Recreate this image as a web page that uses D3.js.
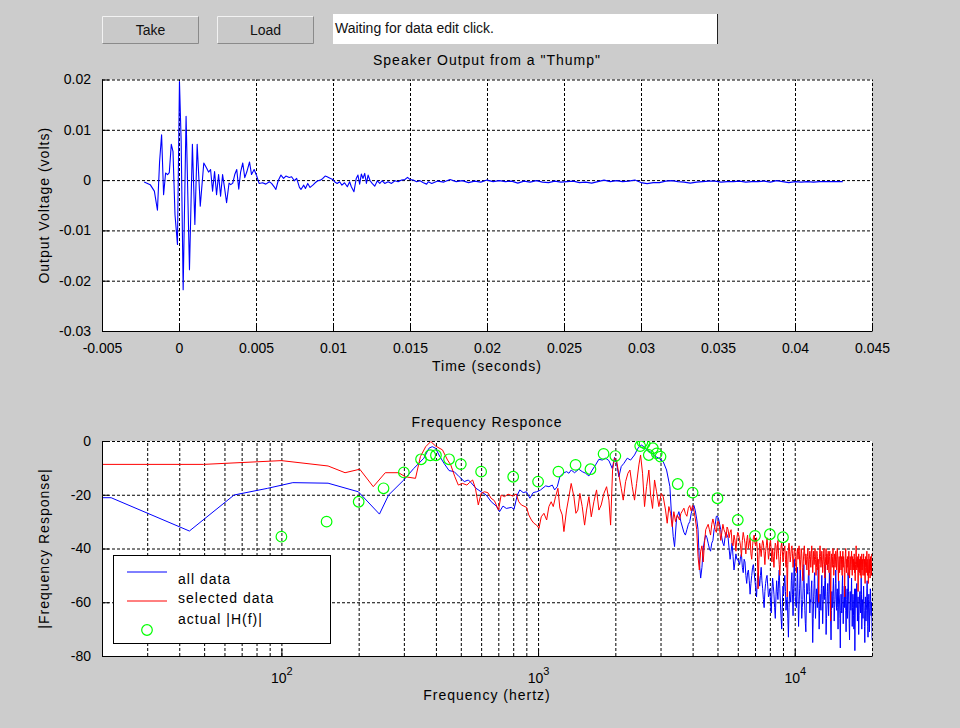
<!DOCTYPE html>
<html>
<head>
<meta charset="utf-8">
<script src="https://cdn.jsdelivr.net/npm/d3@7"></script>
<style>
  html, body { margin: 0; padding: 0; background: #cccccc; }
  svg { display: block; font-family: "Liberation Sans", Arial, Helvetica, sans-serif; }
</style>
</head>
<body>
<svg id="fig" width="960" height="728"></svg>
<script>
// ---------- Speaker "thump" recording (time in ms, output in mV) ----------
const thumpMs = [
  -2.26,-1.87,-1.60,-1.40,-1.26,-1.13,-1.00,-0.87,-0.74,-0.63,-0.50,-0.39,-0.26,-0.10,
  0.03,0.14,0.27,0.46,0.68,0.87,1.03,1.18,1.38,1.61,1.79,1.92,2.05,2.18,2.31,2.44,2.57,
  2.70,2.83,2.96,3.09,3.25,3.36,3.49,3.62,3.75,3.88,4.00,4.14,4.27,4.40,4.58,4.71,4.88,
  5.05,5.20,5.42,5.64,5.86,6.01,6.18,6.29,6.44,6.62,6.79,6.94,7.16,7.31,7.49,7.64,7.82,
  7.92,8.10,8.21,8.36,8.51,8.69,8.84,9.01,9.19,9.34,9.49,9.62,9.71,9.84,9.99,10.10,10.27,
  10.43,10.58,10.75,10.93,11.08,11.19,11.36,11.51,11.62,11.73,11.84,11.95,12.06,12.17,
  12.28,12.41,12.54,12.71,12.88,13.04,13.19,13.36,13.58,13.80,14.02,14.23,14.45,14.67,
  14.84,14.99,15.21,15.43,15.65,15.87,16.08,16.19,16.41,
  16.8,17.2,17.6,18.0,18.4,18.8,19.2,19.6,20.0,20.4,20.8,21.2,21.6,22.0,22.4,22.8,23.2,
  23.6,24.0,24.4,24.8,25.2,25.6,26.0,26.4,26.8,27.2,27.6,28.0,28.4,28.8,29.2,29.6,30.0,
  30.4,30.8,31.2,31.6,32.0,32.4,32.8,33.2,33.6,34.0,34.4,34.8,35.2,35.6,36.0,36.4,36.8,
  37.2,37.6,38.0,38.4,38.8,39.2,39.6,40.0,40.4,40.8,41.2,41.6,42.0,42.4,43.1
];
const thumpMv = [
  -0.36,-0.9,-2.2,-6.0,3.7,9.0,-2.9,1.4,1.1,1.5,7.1,5.7,-6.9,-12.8,
  19.6,7.7,-21.8,12.7,-17.8,7.1,-8.8,7.1,-5.2,3.4,2.4,1.6,2.1,-2.2,1.7,-2.9,1.1,
  -3.2,1.1,-1.6,-4.5,-0.6,-0.9,-0.6,1.1,2.1,-1.8,1.6,3.4,0.5,1.6,3.6,1.1,2.1,
  0.8,-0.66,-0.53,-0.8,-0.33,-0.66,-1.33,-1.86,-0.13,1.0,0.33,0.8,0.53,0.66,-0.13,0.33,-1.46,
  -1.86,-1.0,-1.66,-0.66,-1.46,-1.0,-0.53,-0.13,0,0.33,0.8,0.66,0.53,0.33,0.13,-0.33,-0.66,
  -0.33,-1.0,-0.53,-1.33,-0.33,-1.33,-2.3,0.33,1.0,-0.8,1.2,0.33,1.33,-0.66,
  1.0,-0.13,-0.66,-1.2,-0.13,-0.66,-0.13,-0.66,-0.33,-0.66,-0.13,-0.33,0,0.13,
  0.53,0.13,0,-0.33,-0.13,-0.53,-0.8,-0.33,-0.66,
  -0.2,-0.4,0.1,-0.3,-0.1,-0.5,-0.2,-0.4,0.0,-0.3,-0.1,-0.3,-0.2,-0.6,-0.2,-0.4,-0.1,
  -0.4,-0.5,-0.2,-0.4,-0.3,-0.2,-0.5,-0.4,-0.6,-0.3,0.0,-0.3,-0.1,-0.3,-0.2,0.0,-0.5,
  -0.7,-0.5,-0.5,-0.2,-0.1,-0.3,-0.4,-0.6,-0.4,-0.3,-0.2,-0.2,-0.4,-0.3,-0.3,-0.2,-0.4,
  -0.3,-0.3,-0.2,-0.4,-0.1,-0.3,-0.5,-0.3,-0.4,-0.3,-0.4,-0.3,-0.3,-0.3,-0.3
];
const timeTicks = [-0.005,0,0.005,0.01,0.015,0.02,0.025,0.03,0.035,0.04,0.045];
const voltTicks = [-0.03,-0.02,-0.01,0,0.01,0.02];

// ---------- Frequency response: measured points below 3.6 kHz ----------
const allDataHz = [19.6,21.7,43.8,65.4,88.4,110.8,152,199.5,241,261.6,299.8,328,359,375.6,387,
  399,411,430,450,471,493,516,535,548,573,600,628,657,687,708,730,752,787,806,830,849,875,
  901,929,957,986,1010,1023,1070,1102,1136,1160,1188,1216,1253,1291,1319,1346,1387,1442,
  1486,1531,1578,1626,1675,1726,1778,1832,1888,1945,1986,2022,2065,2109,2160,2226,2293,
  2376,2449,2523,2584,2663,2744,2844,2956,3073,3167,3263,3302,3362,3402,3464,3537];
const allDataDb = [-21.1,-21.1,-33.5,-20.1,-17.6,-15.5,-15.7,-18.9,-27.2,-20.1,-14.5,-10.2,
  -6.4,-2.7,-2.1,-2.7,-5.2,-8.3,-11.0,-11.4,-13.3,-15.1,-14.5,-15.5,-17.6,-18.9,-20.1,-22.6,
  -24.2,-26.3,-24.2,-25.1,-24.7,-25.4,-20.1,-18.2,-19.2,-18.9,-21.3,-19.2,-18.9,-18.5,-18.2,
  -16.7,-17.0,-16.4,-18.2,-17.0,-13.3,-12.0,-11.4,-12.0,-10.8,-11.8,-10.5,-11.4,-12.0,-13.0,
  -10.8,-8.9,-6.8,-7.1,-6.4,-7.3,-10.2,-6.1,-8.3,-13.3,-9.5,-8.3,-6.4,-7.1,-5.2,-2.7,-1.5,
  -2.1,-3.6,-4.0,-5.6,-6.4,-7.7,-10.8,-17.0,-25.7,-35.6,-39.3,-28.8,-26.3];

const selectedHz = [19.6,49.8,100,152,177,202,228,254,286,304,333,348,365,382,399,424,444,
  457,474,489,508,528,540,556,570,585,600,618,637,656,676,701,718,740,764,798,822,841,861,
  902,920,942,963,987,1008,1029,1054,1080,1102,1125,1146,1170,1195,1216,1242,1261,1291,1319,
  1346,1379,1404,1429,1455,1486,1518,1545,1578,1612,1650,1690,1726,1762,1805,1849,1888,1917,
  1951,1986,2022,2065,2109,2147,2193,2239,2280,2328,2376,2420,2471,2508,2553,2599,2646,2702,
  2744,2793,2844,2895,2956,3019,3073,3138,3185,3233,3282,3331,3381,3432,3485,3558];
const selectedDb = [-8.7,-8.7,-7.3,-9.3,-11.8,-10.5,-17.0,-11.8,-11.8,-13.3,-13.9,-5.8,-2.1,
  -0.2,-1.9,-3.3,-7.1,-8.9,-13.3,-16.4,-15.8,-16.4,-15.5,-14.5,-17.6,-23.8,-19.5,-18.9,-19.2,
  -21.3,-22.2,-25.7,-20.1,-20.7,-19.8,-20.5,-19.7,-22.6,-23.8,-24.7,-27.5,-29.4,-30.6,-31.3,
  -32.5,-28.2,-26.9,-29.4,-24.4,-22.6,-24.4,-20.7,-17.6,-25.1,-27.5,-33.7,-25.7,-20.7,-15.8,
  -20.7,-26.9,-25.7,-19.5,-24.4,-31.3,-25.7,-20.7,-28.2,-22.6,-18.2,-25.7,-23.8,-19.5,-17.0,
  -22.0,-31.3,-10.8,-6.4,-7.1,-12.6,-17.6,-22.0,-15.1,-12.0,-10.8,-17.0,-22.0,-15.8,-8.9,
  -5.2,-12.0,-24.4,-17.0,-10.8,-20.1,-25.1,-14.5,-18.9,-24.4,-19.5,-20.7,-25.7,-30.6,-24.4,
  -26.9,-31.9,-26.3,-30.0,-27.5,-29.4];

// ---------- FFT bins from 3.6 kHz up (evenly spaced, 50 Hz apart) ----------
const hfFirstBinHz = 3600, hfLastBinHz = 20400, hfBinStepHz = 50;
const allDataHfDb = [
  -30,-32,-34,-35,-33,-31,-30,-27,-25,
  -24,-26,-29,-33,-45,-51,-47,-40,-37,-35,
  -36,-38,-40,-41,-38,-37,-33,-31,-28,-28,
  -29,-31,-33,-36,-38,-39,-36,-34,-35,-36,
  -40,-44,-41,-38,-43,-48,-45,-42,-44,-44,
  -45,-46,-43,-42,-47,-49,-44,-45,-50,-53,
  -49,-48,-52,-57,-53,-50,-47,-46,-49,-52,
  -55,-58,-52,-49,-51,-54,-50,-47,-52,-55,
  -59,-62,-56,-53,-51,-50,-54,-58,-57,-55,
  -60,-64,-56,-51,-54,-57,-62,-66,-58,-52,
  -56,-59,-52,-48,-55,-61,-66,-70,-61,-54,
  -57,-53,-50,-56,-63,-59,-58,-66,-73,-62,
  -56,-58,-60,-52,-49,-57,-65,-55,-44,-51,
  -58,-61,-62,-54,-47,-58,-69,-61,-55,-48,
  -51,-59,-66,-62,-59,-52,-46,-55,-63,-68,
  -71,-60,-53,-56,-57,-50,-48,-56,-64,-59,
  -60,-55,-52,-64,-75,-66,-58,-53,-49,-57,
  -66,-60,-55,-58,-62,-54,-47,-59,-70,-63,
  -57,-61,-63,-55,-50,-59,-68,-61,-54,-57,
  -59,-52,-46,-58,-72,-66,-61,-56,-53,-60,
  -65,-57,-49,-54,-58,-66,-74,-63,-56,-60,
  -62,-55,-51,-58,-67,-62,-59,-53,-48,-56,
  -63,-58,-55,-62,-70,-61,-52,-57,-60,-66,
  -77,-63,-57,-60,-64,-55,-50,-59,-68,-62,
  -58,-54,-62,-57,-54,-63,-71,-64,-59,-55,
  -66,-58,-49,-56,-61,-68,-74,-63,-56,-60,
  -63,-57,-51,-60,-69,-62,-57,-59,-65,-70,
  -60,-55,-78,-64,-55,-58,-62,-55,-53,-60,
  -67,-61,-58,-64,-72,-65,-61,-57,-56,-60,
  -64,-58,-51,-57,-70,-64,-59,-62,-66,-58,
  -54,-60,-63,-69,-75,-66,-58,-62,-67,-63,
  -61,-55,-52,-58,-69,-73,-64,-59,-57,-62,
  -71,-65,-60,-55,-56,-63,-65,-60,-62,-70,
  -74,-66,-58,-62,-66,-60,-61,-64];
const selectedHfDb = [
  -27,-26,-25,-27,-28,-25,-24,-26,-24,
  -26,-29,-33,-43,-48,-41,-39,-45,-38,-33,
  -32,-31,-33,-35,-31,-29,-31,-33,-34,-30,
  -30,-33,-37,-34,-31,-33,-34,-36,-32,-33,
  -36,-34,-33,-38,-39,-35,-37,-41,-36,-34,
  -35,-37,-39,-43,-37,-34,-36,-38,-42,-37,
  -35,-40,-38,-36,-42,-44,-39,-36,-35,-38,
  -39,-36,-41,-55,-44,-38,-40,-43,-39,-37,
  -38,-42,-46,-41,-39,-36,-40,-44,-42,-38,
  -37,-41,-45,-40,-43,-47,-41,-38,-39,-44,
  -40,-37,-42,-46,-50,-43,-39,-38,-41,-45,
  -42,-40,-39,-44,-47,-41,-58,-46,-40,-38,
  -41,-45,-43,-40,-39,-42,-47,-44,-41,-40,
  -43,-46,-49,-42,-40,-44,-41,-39,-45,-48,
  -44,-40,-42,-47,-52,-45,-41,-39,-43,-46,
  -42,-44,-48,-43,-40,-45,-50,-44,-41,-43,
  -47,-42,-39,-44,-49,-45,-41,-46,-43,-40,
  -44,-50,-47,-41,-43,-48,-44,-60,-46,-42,
  -39,-43,-47,-45,-41,-44,-49,-46,-42,-40,
  -45,-51,-47,-43,-40,-46,-42,-48,-44,-41,
  -46,-49,-43,-41,-45,-67,-48,-42,-44,-47,
  -43,-40,-46,-50,-44,-42,-47,-45,-41,-43,
  -48,-44,-40,-42,-47,-52,-45,-43,-49,-46,
  -41,-44,-48,-43,-46,-50,-44,-41,-47,-43,
  -45,-49,-58,-46,-42,-40,-45,-49,-44,-47,
  -43,-46,-50,-44,-41,-45,-51,-47,-43,-45,
  -48,-44,-41,-46,-50,-43,-45,-48,-44,-47,
  -42,-49,-45,-52,-46,-43,-39,-45,-48,-44,
  -47,-43,-56,-49,-42,-45,-49,-44,-46,-50,
  -43,-47,-51,-45,-42,-48,-44,-47,-50,-45,
  -42,-46,-50,-44,-48,-53,-47,-43,-46,-49,
  -45,-41,-47,-50,-44,-46,-53,-48,-42,-45,
  -49,-44,-51,-47,-43,-48,-46,-50,-44,-42,
  -47,-45,-49,-44,-48,-46,-43,-47];

// ---------- Actual |H(f)| reference points ----------
const actualHz = [100,150,200,250,300,350,380,400,450,500,600,800,1000,1200,1400,1600,1800,
  2000,2500,2550,2600,2700,2800,2900,3000,3500,4000,5000,6000,7000,8000,9000];
const actualDb = [-35.6,-30,-22.6,-17.6,-11.7,-6.8,-5.3,-5.3,-6.8,-8.6,-11.4,-13.3,-15.1,
  -11.4,-8.9,-10.5,-4.8,-5.6,-1.9,-0.4,-0.9,-5.2,-2.7,-4.6,-5.8,-16,-19.2,-21.3,-29.4,-35.3,
  -34.7,-35.8];

const decadeTicks = [100, 1000, 10000];
const decadeExponents = ["2", "3", "4"];
const minorGridHz = [20,30,40,50,60,70,80,90,200,300,400,500,600,700,800,900,
  2000,3000,4000,5000,6000,7000,8000,9000,20000];
const dbTicks = [-80,-60,-40,-20,0];
const legendLabels = ["all data", "selected data", "actual |H(f)|"];

// ---------------------------------------------------------------------------
const svg = d3.select("#fig");
const BLUE = "#0000ff", RED = "#ff0000", GREEN = "#00ff00";

// Control strip: two push buttons and a status text box
function pushButton(x, y, w, h, label) {
  const g = svg.append("g");
  g.append("rect").attr("x", x).attr("y", y).attr("width", w).attr("height", h).attr("fill", "#c9c9c9");
  g.append("path").attr("d", `M${x+0.5},${y+h-0.5}V${y+0.5}H${x+w-0.5}`).attr("fill", "none").attr("stroke", "#f2f2f2");
  g.append("path").attr("d", `M${x+0.5},${y+h-0.5}H${x+w-0.5}V${y+0.5}`).attr("fill", "none").attr("stroke", "#8a8a8a");
  g.append("text").attr("x", x + w / 2).attr("y", y + h / 2 + 5).attr("text-anchor", "middle")
    .attr("font-size", 14).attr("fill", "#111").text(label);
}
pushButton(102, 16, 97, 28, "Take");
pushButton(217, 16, 97, 28, "Load");
svg.append("rect").attr("x", 333).attr("y", 14).attr("width", 385).attr("height", 30).attr("fill", "#ffffff");
svg.append("line").attr("x1", 717.5).attr("x2", 717.5).attr("y1", 14).attr("y2", 44).attr("stroke", "#222");
svg.append("text").attr("x", 335).attr("y", 33).attr("font-size", 14).attr("fill", "#111")
  .text("Waiting for data edit click.");

// Shared helpers for the two axes panels
function gridStyle(sel) {
  sel.select(".domain").remove();
  sel.selectAll(".tick line").attr("stroke", "#000").attr("stroke-width", 1).attr("stroke-dasharray", "3,2");
  sel.selectAll(".tick text").remove();
}
function axisStyle(sel) {
  sel.select(".domain").attr("stroke", "#000").attr("stroke-width", 1);
  sel.selectAll(".tick line").attr("stroke", "#000");
  sel.selectAll(".tick text").attr("fill", "#000").attr("font-size", 14)
    .attr("font-family", '"Liberation Sans", Arial, Helvetica, sans-serif');
}
function label(x, y, txt, rotate) {
  const t = svg.append("text").attr("x", x).attr("y", y).attr("text-anchor", "middle")
    .attr("font-size", 14).attr("letter-spacing", 1).attr("fill", "#000").text(txt);
  if (rotate) t.attr("transform", `rotate(-90,${x},${y})`);
  return t;
}

// ===================== Panel 1: time signal =====================
const p1 = { left: 102, right: 872, top: 79.5, bottom: 331 };
const xT = d3.scaleLinear().domain([-0.005, 0.045]).range([p1.left, p1.right]);
const yT = d3.scaleLinear().domain([-0.03, 0.02]).range([p1.bottom, p1.top]);

svg.append("rect").attr("x", p1.left).attr("y", p1.top).attr("width", p1.right - p1.left)
  .attr("height", p1.bottom - p1.top).attr("fill", "#fff");
svg.append("g").attr("transform", `translate(0,${p1.bottom})`)
  .call(d3.axisBottom(xT).tickValues(timeTicks).tickSize(-(p1.bottom - p1.top))).call(gridStyle);
svg.append("g").attr("transform", `translate(${p1.left},0)`)
  .call(d3.axisLeft(yT).tickValues(voltTicks).tickSize(-(p1.right - p1.left))).call(gridStyle);

const thump = thumpMs.map((t, i) => ({ t: t / 1000, v: thumpMv[i] / 1000 }));
svg.append("path").datum(thump)
  .attr("d", d3.line().x(d => xT(d.t)).y(d => yT(d.v)))
  .attr("fill", "none").attr("stroke", BLUE).attr("stroke-width", 1.1).attr("stroke-linejoin", "round");

const fmtPlain = d => String(d);
svg.append("g").attr("transform", `translate(0,${p1.bottom})`)
  .call(d3.axisBottom(xT).tickValues(timeTicks).tickSizeInner(-7).tickSizeOuter(0).tickPadding(12).tickFormat(fmtPlain))
  .call(axisStyle);
svg.append("g").attr("transform", `translate(${p1.left},0)`)
  .call(d3.axisLeft(yT).tickValues(voltTicks).tickSizeInner(-7).tickSizeOuter(0).tickPadding(11).tickFormat(fmtPlain))
  .call(axisStyle);

label((p1.left + p1.right) / 2, 65, 'Speaker Output from a "Thump"');
label((p1.left + p1.right) / 2, 371, "Time (seconds)");
label(49, (p1.top + p1.bottom) / 2, "Output Voltage (volts)", true);

// ===================== Panel 2: frequency response =====================
const p2 = { left: 102, right: 872, top: 441, bottom: 656 };
const xF = d3.scaleLog().domain([20, 20000]).range([p2.left, p2.right]);
const yF = d3.scaleLinear().domain([-80, 0]).range([p2.bottom, p2.top]);

svg.append("rect").attr("x", p2.left).attr("y", p2.top).attr("width", p2.right - p2.left)
  .attr("height", p2.bottom - p2.top).attr("fill", "#fff");
svg.append("g").attr("transform", `translate(0,${p2.bottom})`)
  .call(d3.axisBottom(xF).tickValues(decadeTicks.concat(minorGridHz)).tickSize(-(p2.bottom - p2.top))).call(gridStyle);
svg.append("g").attr("transform", `translate(${p2.left},0)`)
  .call(d3.axisLeft(yF).tickValues(dbTicks).tickSize(-(p2.right - p2.left))).call(gridStyle);

svg.append("clipPath").attr("id", "clip2").append("rect")
  .attr("x", p2.left).attr("y", p2.top).attr("width", p2.right - p2.left).attr("height", p2.bottom - p2.top);
const plot2 = svg.append("g").attr("clip-path", "url(#clip2)");

const hfBinHz = d3.range(hfFirstBinHz, hfLastBinHz + 1, hfBinStepHz);
const allSeries = allDataHz.map((f, i) => ({ f, db: allDataDb[i] }))
  .concat(hfBinHz.map((f, i) => ({ f, db: allDataHfDb[i] })));
const selSeries = selectedHz.map((f, i) => ({ f, db: selectedDb[i] }))
  .concat(hfBinHz.map((f, i) => ({ f, db: selectedHfDb[i] })));
const lineF = d3.line().defined(d => d.db !== undefined).x(d => xF(d.f)).y(d => yF(d.db));

plot2.append("path").datum(allSeries).attr("d", lineF)
  .attr("fill", "none").attr("stroke", BLUE).attr("stroke-width", 1).attr("stroke-linejoin", "round");
plot2.append("path").datum(selSeries).attr("d", lineF)
  .attr("fill", "none").attr("stroke", RED).attr("stroke-width", 1).attr("stroke-linejoin", "round");
plot2.selectAll("circle.actual").data(actualHz.map((f, i) => ({ f, db: actualDb[i] })))
  .join("circle").attr("class", "actual")
  .attr("cx", d => xF(d.f)).attr("cy", d => yF(d.db)).attr("r", 5.3)
  .attr("fill", "none").attr("stroke", GREEN).attr("stroke-width", 1.2);

const xAxis2 = svg.append("g").attr("transform", `translate(0,${p2.bottom})`)
  .call(d3.axisBottom(xF).tickValues(decadeTicks).tickSizeInner(-7).tickSizeOuter(0).tickFormat(""))
  .call(axisStyle);
xAxis2.selectAll(".tick").each(function (d, i) {
  const t = d3.select(this).append("text").attr("y", 27).attr("text-anchor", "middle")
    .attr("fill", "#000").attr("font-size", 14);
  t.append("tspan").text("10");
  t.append("tspan").attr("dy", -8).attr("font-size", 11).text(decadeExponents[i]);
});
svg.append("g").attr("transform", `translate(${p2.left},0)`)
  .call(d3.axisLeft(yF).tickValues(dbTicks).tickSizeInner(-7).tickSizeOuter(0).tickPadding(11).tickFormat(fmtPlain))
  .call(axisStyle);

label((p2.left + p2.right) / 2, 427, "Frequency Responce");
label((p2.left + p2.right) / 2, 700, "Frequency (hertz)");
label(49, (p2.top + p2.bottom) / 2, "|Frequency Response|", true);

// Legend
const lg = svg.append("g");
lg.append("rect").attr("x", 113.5).attr("y", 555.5).attr("width", 217).attr("height", 88)
  .attr("fill", "#fff").attr("stroke", "#000");
const legendRows = [
  { y: 572, ty: 584, color: BLUE, kind: "line" },
  { y: 601, ty: 603, color: RED, kind: "line" },
  { y: 630, ty: 624, color: GREEN, kind: "circle" }
];
legendRows.forEach((r, i) => {
  if (r.kind === "line") {
    lg.append("line").attr("x1", 127).attr("x2", 167).attr("y1", r.y).attr("y2", r.y)
      .attr("stroke", r.color).attr("stroke-width", 1);
  } else {
    lg.append("circle").attr("cx", 147).attr("cy", r.y).attr("r", 5.3)
      .attr("fill", "none").attr("stroke", r.color).attr("stroke-width", 1.2);
  }
  lg.append("text").attr("x", 178).attr("y", r.ty).attr("font-size", 14).attr("letter-spacing", 1)
    .attr("fill", "#000").text(legendLabels[i]);
});
</script>
</body>
</html>
